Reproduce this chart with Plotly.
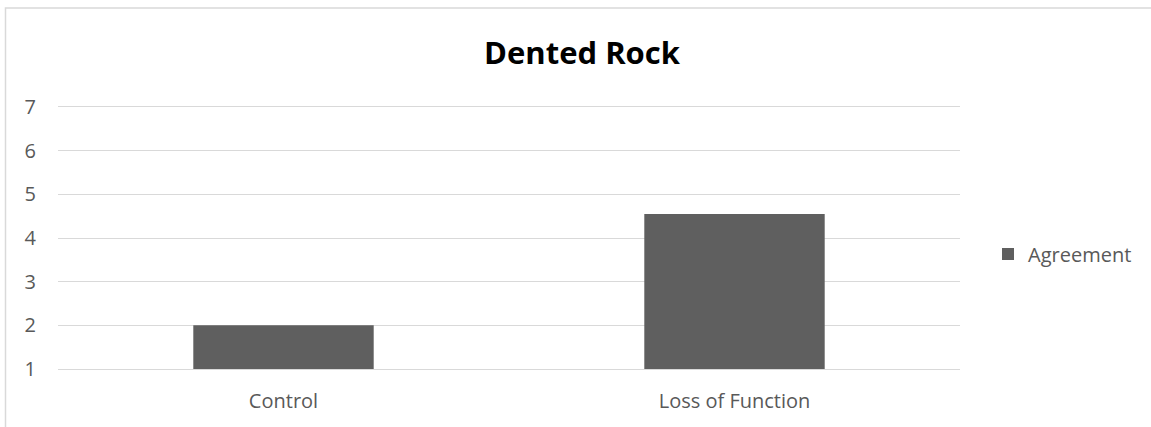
import plotly.graph_objects as go

categories = ["Control", "Loss of Function"]
agreement = [2.0, 4.55]
y_ticks = [1, 2, 3, 4, 5, 6, 7]

W, H = 1151, 427
ml, mr, mt, mb = 58, 191, 107, 58
pw, ph = W - ml - mr, H - mt - mb

def px(x):
    return (x - ml) / pw

def py(y):
    return (H - mb - y) / ph

fig = go.Figure()
fig.add_trace(go.Bar(
    x=categories, y=[v - 1 for v in agreement], base=1, name="Agreement",
    marker=dict(color="#5f5f5f", line=dict(width=0)),
    width=0.4, customdata=agreement, hovertemplate="%{x}: %{customdata}<extra></extra>",
))

fig.update_layout(
    width=W, height=H,
    margin=dict(l=ml, r=mr, t=mt, b=mb),
    paper_bgcolor="white", plot_bgcolor="white",
    font=dict(family="Open Sans", size=20, color="#595959"),
    title=dict(text="<b>Dented Rock</b>", x=582 / W, xanchor="center",
               y=1 - 53 / H, yanchor="middle", yref="container", xref="container",
               font=dict(family="Open Sans", size=31, color="#000000")),
    showlegend=True,
    legend=dict(x=px(988), xanchor="left", y=py(254), yanchor="middle",
                font=dict(size=20, color="#595959"), itemwidth=30),
)
fig.update_yaxes(range=[1, 7], tickvals=y_ticks, showgrid=True, gridcolor="#d9d9d9",
                 gridwidth=1, zeroline=False, showline=False, ticks="",
                 ticklabelstandoff=21)
fig.update_xaxes(showgrid=False, showline=True, mirror=True, linecolor="#d9d9d9", linewidth=1,
                 ticks="", ticklabelstandoff=14)
fig.add_shape(type="rect", xref="paper", yref="paper",
              x0=px(5.5), x1=px(1170), y0=py(450), y1=py(8),
              line=dict(color="#d9d9d9", width=1.5), fillcolor="rgba(0,0,0,0)", layer="below")
fig.write_html("out.html", config={"displayModeBar": False},
               post_script="document.body.style.margin='0';document.body.style.overflow='hidden';")
